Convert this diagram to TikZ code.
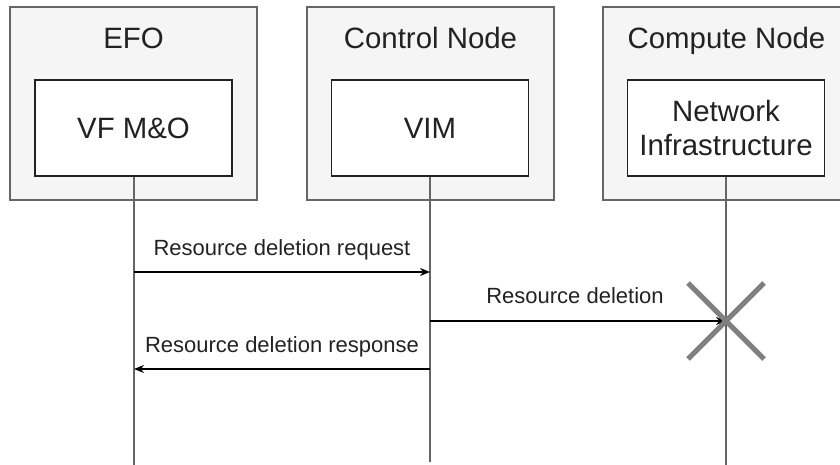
\documentclass[tikz,border=0pt]{standalone}
\usepackage{fontspec}
\setmainfont{Liberation Sans}
\usetikzlibrary{arrows.meta}
\definecolor{framefill}{HTML}{F5F5F5}
\definecolor{framedraw}{HTML}{666666}
\definecolor{inktext}{HTML}{222222}
\definecolor{crossgray}{HTML}{808080}
\begin{document}
\begin{tikzpicture}[x=1pt,y=-1pt,
  frame/.style={draw=framedraw,fill=framefill,line width=1.3pt,minimum width=247pt,minimum height=193pt,inner sep=0pt},
  title/.style={text=inktext,font=\fontsize{29.4}{34}\selectfont,anchor=base,inner sep=0pt},
  block/.style={draw=inktext,fill=white,line width=1.3pt,minimum width=197pt,minimum height=96pt,inner sep=0pt,
    text=inktext,font=\fontsize{29.4}{34}\selectfont,align=center},
  lifeline/.style={draw=framedraw,line width=1.8pt},
  msg/.style={draw=black,line width=1.4pt,-{Stealth[length=10pt,width=8pt]}},
  lbl/.style={text=inktext,font=\fontsize{22}{26}\selectfont,inner sep=0pt,anchor=base},
  xmark/.style={draw=crossgray,line width=5pt}]
\useasboundingbox (0,0) rectangle (840,464);

% swimlane frames
\node[frame] (efo) at (133.5,103.5) {};
\node[frame] (ctrl) at (430.5,103.5) {};
\node[frame] (comp) at (726.5,103.5) {};
\node[title] (efoT) at (133.5,48.5) {EFO};
\node[title] (ctrlT) at (430.5,48.5) {Control Node};
\node[title] (compT) at (726.5,48.5) {Compute Node};

% participants
\node[block] (vfmo) at (133.5,128) {VF M\&O};
\node[block] (vim) at (430,128) {VIM};
\node[block] (netinf) at (726,128) {Network\\Infrastructure};

% lifelines
\coordinate (vfmoEnd) at (134,466);
\coordinate (vimEnd) at (430,462);
\coordinate (netEnd) at (726,466);
\draw[lifeline] (vfmo.south -| vfmoEnd) -- (vfmoEnd);
\draw[lifeline] (vim.south -| vimEnd) -- (vimEnd);
\draw[lifeline] (netinf.south -| netEnd) -- (netEnd);

% message anchor points on the lifelines
\coordinate (reqFrom) at (134,272);
\coordinate (reqTo) at (430,272);
\coordinate (delFrom) at (430,321);
\coordinate (delTo) at (726,321);
\coordinate (rspFrom) at (430,369);
\coordinate (rspTo) at (134,369);

% messages
\draw[msg] (reqFrom) -- (reqTo);
\node[lbl] (reqL) at (282,255) {Resource deletion request};
\draw[msg] (delFrom) -- (delTo);
\node[lbl] (delL) at (575,303) {Resource deletion};
\draw[msg] (rspFrom) -- (rspTo);
\node[lbl] (rspL) at (282,352) {Resource deletion response};

% destruction mark
\draw[xmark] ([shift={(-38,-38)}]delTo) -- ([shift={(38,38)}]delTo);
\draw[xmark] ([shift={(-38,38)}]delTo) -- ([shift={(38,-38)}]delTo);
\end{tikzpicture}
\end{document}
